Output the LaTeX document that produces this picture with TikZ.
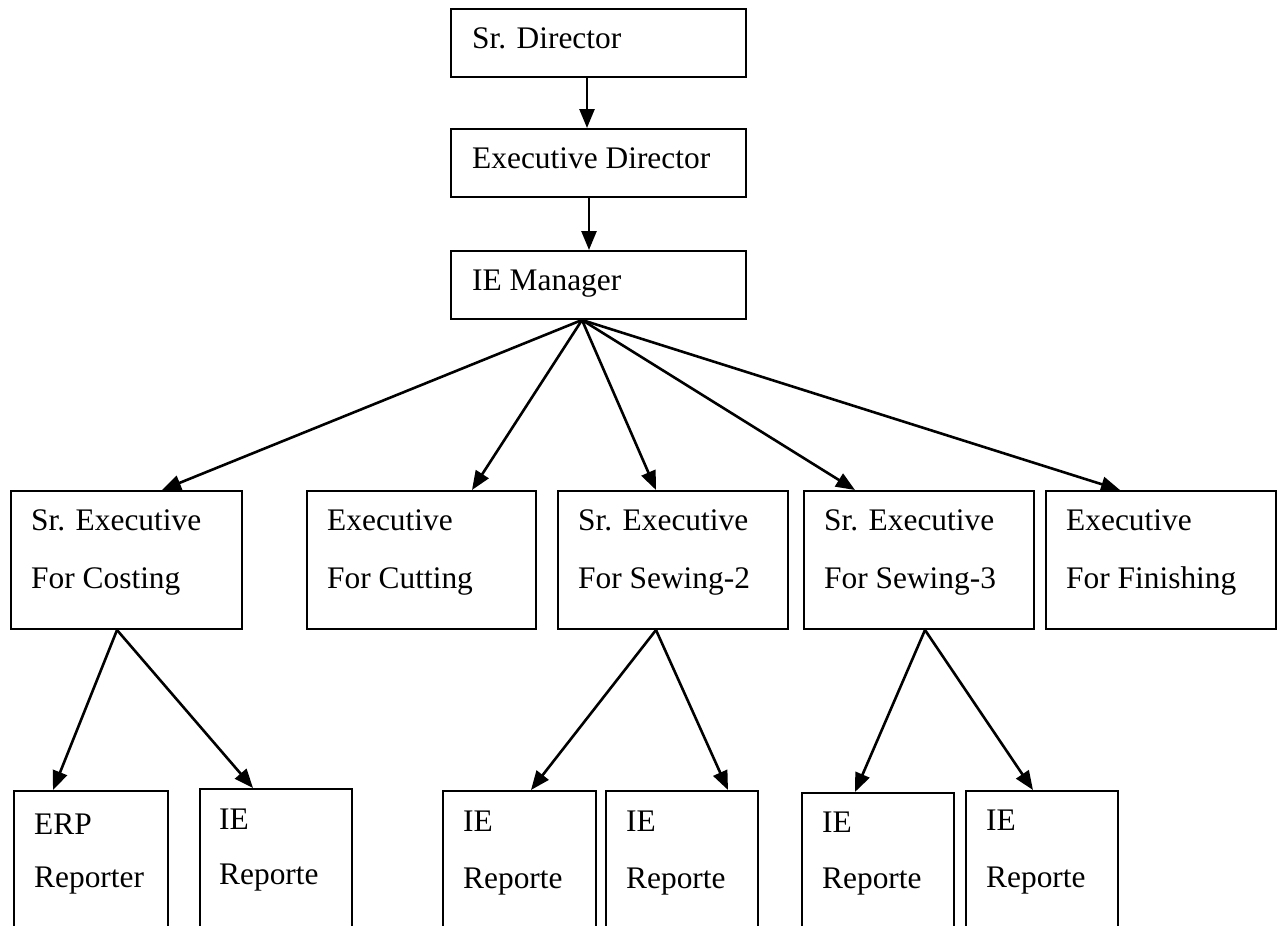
\documentclass[tikz,border=0pt]{standalone}
\usepackage{fontspec}
\setmainfont{Liberation Serif}
\usetikzlibrary{arrows.meta}

\begin{document}
\begin{tikzpicture}[x=1pt, y=-1pt,
    box/.style={draw, line width=2pt, anchor=north west, inner sep=0pt},
    txt/.style={anchor=base west, inner sep=0pt, font=\fontsize{31.4}{36}\selectfont},
    arr/.style={line width=2.6pt, -{Triangle[length=19pt, width=15pt]}}]

  \useasboundingbox (0,0) rectangle (1282,926);
  \clip (0,0) rectangle (1282,926);

  % top of the chain
  \node[box, minimum width=295pt, minimum height=68pt] (sd)  at (450,8)   {};
  \node[box, minimum width=295pt, minimum height=68pt] (ed)  at (450,128) {};
  \node[box, minimum width=295pt, minimum height=68pt] (mgr) at (450,250) {};
  \node[txt] (sdt)  at ([shift={(22pt,-40pt)}]sd.north west)  {Sr. Director};
  \node[txt] (edt)  at ([shift={(22pt,-40pt)}]ed.north west)  {Executive Director};
  \node[txt] (mgrt) at ([shift={(22pt,-40pt)}]mgr.north west) {IE Manager};

  % executives
  \node[box, minimum width=231pt, minimum height=138pt] (b1) at (10,490)   {};
  \node[box, minimum width=229pt, minimum height=138pt] (b2) at (306,490)  {};
  \node[box, minimum width=230pt, minimum height=138pt] (b3) at (557,490)  {};
  \node[box, minimum width=230pt, minimum height=138pt] (b4) at (803,490)  {};
  \node[box, minimum width=230pt, minimum height=138pt] (b5) at (1045,490) {};

  \node[txt] (b1a) at ([shift={(21pt,-40pt)}]b1.north west) {Sr. Executive};
  \node[txt] (b1b) at ([shift={(21pt,-98pt)}]b1.north west) {For Costing};
  \node[txt] (b2a) at ([shift={(21pt,-40pt)}]b2.north west) {Executive};
  \node[txt] (b2b) at ([shift={(21pt,-98pt)}]b2.north west) {For Cutting};
  \node[txt] (b3a) at ([shift={(21pt,-40pt)}]b3.north west) {Sr. Executive};
  \node[txt] (b3b) at ([shift={(21pt,-98pt)}]b3.north west) {For Sewing-2};
  \node[txt] (b4a) at ([shift={(21pt,-40pt)}]b4.north west) {Sr. Executive};
  \node[txt] (b4b) at ([shift={(21pt,-98pt)}]b4.north west) {For Sewing-3};
  \node[txt] (b5a) at ([shift={(21pt,-40pt)}]b5.north west) {Executive};
  \node[txt] (b5b) at ([shift={(21pt,-98pt)}]b5.north west) {For Finishing};

  % reporters
  \node[box, minimum width=154pt, minimum height=170pt] (erp) at (13,790)  {};
  \node[box, minimum width=152pt, minimum height=170pt] (ie1) at (199,788) {};
  \node[box, minimum width=153pt, minimum height=170pt] (ie2) at (442,790) {};
  \node[box, minimum width=152pt, minimum height=170pt] (ie3) at (605,790) {};
  \node[box, minimum width=152pt, minimum height=170pt] (ie4) at (801,792) {};
  \node[box, minimum width=152pt, minimum height=170pt] (ie5) at (965,790) {};

  \node[txt] (erpa) at ([shift={(21pt,-44pt)}]erp.north west) {ERP};
  \node[txt] (erpb) at ([shift={(21pt,-97pt)}]erp.north west) {Reporter};
  \node[txt] (ie1a) at ([shift={(20pt,-41pt)}]ie1.north west) {IE};
  \node[txt] (ie1b) at ([shift={(20pt,-96pt)}]ie1.north west) {Reporte};
  \node[txt] (ie2a) at ([shift={(21pt,-41pt)}]ie2.north west) {IE};
  \node[txt] (ie2b) at ([shift={(21pt,-98pt)}]ie2.north west) {Reporte};
  \node[txt] (ie3a) at ([shift={(21pt,-41pt)}]ie3.north west) {IE};
  \node[txt] (ie3b) at ([shift={(21pt,-98pt)}]ie3.north west) {Reporte};
  \node[txt] (ie4a) at ([shift={(21pt,-40pt)}]ie4.north west) {IE};
  \node[txt] (ie4b) at ([shift={(21pt,-96pt)}]ie4.north west) {Reporte};
  \node[txt] (ie5a) at ([shift={(21pt,-40pt)}]ie5.north west) {IE};
  \node[txt] (ie5b) at ([shift={(21pt,-97pt)}]ie5.north west) {Reporte};

  % reporting lines
  \draw[arr] ([xshift=137pt]sd.south west) -- ([xshift=137pt]ed.north west);
  \draw[arr] ([xshift=139pt]ed.south west) -- ([xshift=139pt]mgr.north west);

  \draw[arr] ([xshift=132pt]mgr.south west) -- ([xshift=152pt]b1.north west);
  \draw[arr] ([xshift=132pt]mgr.south west) -- ([xshift=166pt]b2.north west);
  \draw[arr] ([xshift=132pt]mgr.south west) -- ([xshift=99pt]b3.north west);
  \draw[arr] ([xshift=132pt]mgr.south west) -- ([xshift=52pt]b4.north west);
  \draw[arr] ([xshift=132pt]mgr.south west) -- ([xshift=75pt]b5.north west);

  \draw[arr] ([xshift=107pt]b1.south west) -- ([xshift=40pt]erp.north west);
  \draw[arr] ([xshift=107pt]b1.south west) -- ([xshift=54pt]ie1.north west);
  \draw[arr] ([xshift=99pt]b3.south west)  -- ([xshift=89pt]ie2.north west);
  \draw[arr] ([xshift=99pt]b3.south west)  -- ([xshift=123pt]ie3.north west);
  \draw[arr] ([xshift=122pt]b4.south west) -- ([xshift=54pt]ie4.north west);
  \draw[arr] ([xshift=122pt]b4.south west) -- ([xshift=68pt]ie5.north west);
\end{tikzpicture}
\end{document}
